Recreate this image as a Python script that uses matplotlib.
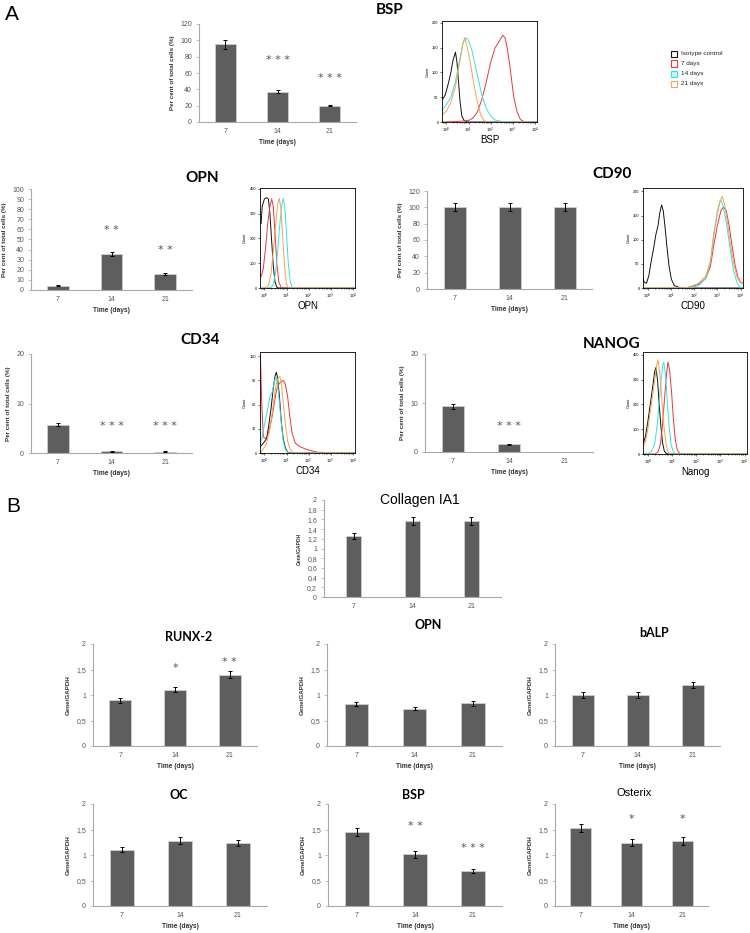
import numpy as np
import matplotlib
matplotlib.use("Agg")
import matplotlib.pyplot as plt
from matplotlib.patches import Rectangle

W, H = 750, 933

DAYS = ["7", "14", "21"]

# panel A, bar charts (% of total cells)
BSP_A_MEAN = [95, 37, 20]
BSP_A_ERR = [5, 2, 1]
BSP_A_STARS = [("", 0), ("***", 76), ("***", 54)]
OPN_A_MEAN = [4, 35.5, 16]
OPN_A_ERR = [0.5, 2, 1]
OPN_A_STARS = [("", 0), ("**", 59), ("**", 40)]
CD90_MEAN = [100, 100, 100]
CD90_ERR = [5, 5, 5]
CD34_MEAN = [5.7, 0.4, 0.3]
CD34_ERR = [0.3, 0.1, 0.1]
CD34_STARS = [("", 0), ("***", 5.4), ("***", 5.4)]
NANOG_MEAN = [9.3, 1.6, 0]
NANOG_ERR = [0.5, 0.1, np.nan]
NANOG_STARS = [("", 0), ("***", 5.4), ("", 0)]

# panel B, gene expression (Gene/GAPDH)
COL_MEAN = [1.25, 1.56, 1.57]
COL_ERR = [0.06, 0.08, 0.08]
RUNX_MEAN = [0.9, 1.1, 1.4]
RUNX_ERR = [0.05, 0.05, 0.07]
RUNX_STARS = [("", 0), ("*", 1.52), ("**", 1.65)]
OPN_B_MEAN = [0.83, 0.73, 0.84]
OPN_B_ERR = [0.04, 0.03, 0.05]
BALP_MEAN = [1.0, 1.0, 1.2]
BALP_ERR = [0.06, 0.06, 0.06]
OC_MEAN = [1.1, 1.28, 1.23]
OC_ERR = [0.05, 0.07, 0.06]
BSP_B_MEAN = [1.45, 1.01, 0.68]
BSP_B_ERR = [0.08, 0.06, 0.04]
BSP_B_STARS = [("", 0), ("**", 1.57), ("***", 1.14)]
OSX_MEAN = [1.53, 1.24, 1.27]
OSX_ERR = [0.08, 0.07, 0.08]
OSX_STARS = [("", 0), ("*", 1.7), ("*", 1.7)]

# flow cytometry histograms: (log10 intensity, count)
BSP_ISO = [(-0.18, 45), (-0.05, 55), (0.1, 80), (0.2, 100), (0.3, 125), (0.41, 141), (0.48, 120),
           (0.55, 80), (0.62, 40), (0.7, 12), (0.8, 3), (0.95, 0), (4.1, 0)]
BSP_D7 = [(-0.18, 0), (0.5, 1), (1.0, 3), (1.2, 8), (1.4, 20), (1.6, 45), (1.8, 80), (2.0, 120),
          (2.2, 150), (2.35, 160), (2.45, 168), (2.56, 175), (2.65, 170), (2.75, 150), (2.85, 120),
          (2.95, 85), (3.05, 50), (3.2, 20), (3.35, 5), (3.5, 1), (4.1, 0)]
BSP_D14 = [(-0.18, 25), (0.0, 35), (0.2, 50), (0.4, 80), (0.6, 125), (0.75, 160), (0.88, 170),
           (1.0, 165), (1.15, 145), (1.3, 115), (1.45, 85), (1.6, 55), (1.8, 28), (2.0, 12),
           (2.2, 4), (2.5, 1), (4.1, 0)]
BSP_D21 = [(-0.18, 15), (0.0, 22), (0.2, 40), (0.4, 70), (0.6, 120), (0.75, 160), (0.83, 170),
           (0.95, 150), (1.1, 115), (1.25, 75), (1.4, 40), (1.55, 15), (1.7, 3), (1.85, 0), (4.1, 0)]

OPN_ISO = [(-0.15, 260), (-0.1, 330), (0.0, 360), (0.1, 365), (0.18, 360), (0.25, 300), (0.32, 200),
           (0.4, 90), (0.48, 25), (0.56, 3), (0.65, 0), (4.1, 0)]
OPN_D7 = [(-0.15, 45), (-0.05, 80), (0.05, 160), (0.15, 260), (0.25, 330), (0.33, 360), (0.4, 330),
          (0.48, 220), (0.56, 100), (0.65, 25), (0.75, 3), (0.85, 0), (4.1, 0)]
OPN_D14 = [(-0.15, 0), (0.3, 2), (0.4, 15), (0.5, 60), (0.6, 150), (0.7, 260), (0.8, 345), (0.86, 362),
           (0.93, 320), (1.0, 220), (1.08, 100), (1.17, 25), (1.26, 3), (1.35, 0), (4.1, 0)]
OPN_D21 = [(-0.15, 0), (0.1, 2), (0.2, 15), (0.3, 60), (0.4, 150), (0.5, 250), (0.6, 340), (0.67, 362),
           (0.75, 320), (0.83, 200), (0.92, 80), (1.0, 15), (1.1, 0), (4.1, 0)]

CD90_ISO = [(-0.21, 22), (-0.15, 12), (-0.05, 10), (0.05, 25), (0.15, 55), (0.25, 80), (0.35, 110),
            (0.45, 130), (0.52, 155), (0.6, 172), (0.67, 160), (0.75, 125), (0.83, 85), (0.92, 45),
            (1.02, 18), (1.15, 5), (1.35, 1), (1.6, 0), (4.1, 0)]
CD90_D7 = [(-0.21, 0), (1.6, 0), (1.9, 3), (2.2, 8), (2.5, 20), (2.7, 45), (2.85, 90), (3.0, 130),
           (3.15, 160), (3.26, 168), (3.38, 160), (3.5, 130), (3.62, 90), (3.75, 50), (3.88, 22),
           (4.0, 12), (4.08, 10)]
CD90_D14 = [(-0.21, 0), (1.8, 0), (2.2, 5), (2.5, 20), (2.7, 55), (2.85, 115), (3.0, 160), (3.1, 178),
            (3.15, 182), (3.25, 170), (3.4, 130), (3.55, 80), (3.7, 35), (3.85, 10), (3.95, 2), (4.08, 0)]
CD90_D21 = [(-0.21, 0), (1.6, 0), (1.9, 4), (2.2, 10), (2.5, 25), (2.7, 55), (2.85, 110), (3.0, 155),
            (3.12, 180), (3.21, 190), (3.3, 175), (3.42, 140), (3.55, 95), (3.7, 50), (3.85, 22),
            (4.0, 10), (4.08, 12)]

CD34_ISO = [(-0.18, 8), (-0.05, 12), (0.1, 18), (0.2, 35), (0.3, 55), (0.4, 80), (0.48, 95), (0.54, 100),
            (0.6, 92), (0.68, 70), (0.76, 40), (0.85, 18), (0.95, 6), (1.05, 1), (1.2, 0), (4.1, 0)]
CD34_D7 = [(-0.18, 120), (-0.12, 60), (-0.05, 20), (0.05, 18), (0.15, 22), (0.25, 32), (0.35, 45),
           (0.45, 62), (0.55, 78), (0.65, 85), (0.75, 88), (0.85, 90), (0.95, 85), (1.05, 70),
           (1.15, 45), (1.25, 25), (1.4, 12), (1.6, 8), (1.85, 5), (2.1, 3), (2.4, 1), (2.8, 0.5),
           (3.2, 0.5), (4.1, 0)]
CD34_D14 = [(-0.18, 12), (-0.1, 20), (0.0, 35), (0.12, 50), (0.25, 70), (0.35, 75), (0.45, 88), (0.52, 95),
            (0.6, 85), (0.68, 62), (0.76, 38), (0.85, 15), (0.95, 4), (1.1, 0), (4.1, 0)]
CD34_D21 = [(-0.18, 0), (-0.05, 5), (0.1, 12), (0.25, 30), (0.38, 55), (0.5, 80), (0.6, 92), (0.7, 95),
            (0.78, 82), (0.86, 60), (0.95, 35), (1.05, 15), (1.15, 5), (1.3, 0), (4.1, 0)]

NANOG_ISO = [(-0.18, 45), (-0.1, 70), (0.0, 130), (0.1, 200), (0.2, 270), (0.28, 330), (0.33, 348),
             (0.4, 300), (0.47, 200), (0.54, 110), (0.61, 45), (0.68, 12), (0.76, 2), (0.85, 0), (4.13, 0)]
NANOG_D7 = [(-0.18, 0), (0.3, 0), (0.42, 8), (0.52, 40), (0.6, 110), (0.68, 210), (0.76, 310), (0.83, 370),
            (0.9, 340), (0.98, 250), (1.05, 150), (1.13, 60), (1.22, 15), (1.32, 2), (1.45, 0), (4.13, 0)]
NANOG_D14 = [(-0.18, 0), (0.0, 2), (0.15, 10), (0.28, 40), (0.38, 110), (0.46, 200), (0.55, 300),
             (0.62, 360), (0.66, 370), (0.73, 320), (0.8, 220), (0.88, 110), (0.96, 40), (1.05, 8),
             (1.15, 0), (4.13, 0)]
NANOG_D21 = [(-0.18, 30), (-0.1, 50), (0.0, 100), (0.1, 170), (0.2, 240), (0.3, 310), (0.37, 360),
             (0.42, 380), (0.5, 320), (0.58, 220), (0.66, 120), (0.74, 50), (0.82, 12), (0.9, 2),
             (1.0, 0), (4.13, 0)]

LEGEND_LABELS = ["Isotype control", "7 days", "14 days", "21 days"]
HIST_COLORS = ["#111111", "#e8383a", "#35e2e2", "#f4a452"]

BAR_COLOR = "#5e5e5e"
AXIS_GREY = "#a8a8a8"
TXT_GREY = "#555555"
TITLE_FONT = ["Lato", "DejaVu Sans"]
PLAIN_FONT = ["Liberation Sans", "DejaVu Sans"]

plt.rcParams["font.family"] = PLAIN_FONT

fig = plt.figure(figsize=(W / 100, H / 100), dpi=100)


def px_axes(x0, y0, x1, y1):
    return fig.add_axes([x0 / W, 1 - y1 / H, (x1 - x0) / W, (y1 - y0) / H])


def px_text(x, y, s, **kw):
    kw.setdefault("ha", "center")
    kw.setdefault("va", "center")
    fig.text(x / W, 1 - y / H, s, **kw)


def bar_panel(box, means, errs, ymax, yticks, ylabels, ylabel, stars=None,
              xlabel="Time (days)", width=0.4, ylab_size=4.5):
    ax = px_axes(*box)
    x = np.arange(len(DAYS))
    ax.bar(x, means, width, color=BAR_COLOR, edgecolor="#cfcfcf", linewidth=0.6, zorder=2)
    ax.errorbar(x, means, yerr=errs, fmt="none", ecolor="black", elinewidth=0.7,
                capsize=1.6, capthick=0.7, zorder=3)
    ax.set_xlim(-0.5, 2.5)
    ax.set_ylim(0, ymax)
    ax.set_yticks(yticks)
    ax.set_yticklabels(ylabels)
    ax.set_xticks(x)
    ax.set_xticklabels(DAYS)
    for s in ["top", "right"]:
        ax.spines[s].set_visible(False)
    for s in ["left", "bottom"]:
        ax.spines[s].set_color(AXIS_GREY)
        ax.spines[s].set_linewidth(0.8)
    ax.tick_params(axis="y", length=2, width=0.5, color=AXIS_GREY, labelsize=5,
                   labelcolor=TXT_GREY, pad=3)
    ax.tick_params(axis="x", length=0, labelsize=5, labelcolor=TXT_GREY, pad=4)
    ax.set_ylabel(ylabel, fontsize=ylab_size, fontweight="bold", color="#333333", labelpad=4)
    if xlabel:
        ax.set_xlabel(xlabel, fontsize=4.8, fontweight="bold", color="#333333", labelpad=3)
    if stars:
        for i, (s, y) in enumerate(stars):
            if s:
                ax.text(i, y, " ".join(s), ha="center", va="center", fontsize=8, color=TXT_GREY,
                        family=["DejaVu Sans"])
    return ax


def hist_panel(box, curves, ymax, yticks, label):
    ax = px_axes(*box)
    for pts, c in zip(curves, HIST_COLORS):
        lx = np.array([p[0] for p in pts])
        cnt = np.array([p[1] for p in pts])
        ax.plot(10 ** lx, cnt, color=c, linewidth=0.7)
    ax.set_xscale("log")
    ax.set_xlim(10 ** -0.2, 10 ** 4.1)
    ax.set_ylim(0, ymax)
    ax.set_yticks(yticks)
    ax.set_yticklabels([str(t) for t in yticks])
    ax.set_xticks([1, 10, 100, 1000, 10000])
    ax.set_xticklabels([r"$10^{%d}$" % i for i in range(5)])
    ax.tick_params(which="both", length=1.5, width=0.4, labelsize=2.8, pad=1)
    ax.tick_params(which="minor", length=0.8)
    for s in ax.spines.values():
        s.set_linewidth(0.6)
    ax.set_ylabel("Count", fontsize=2.8, labelpad=2)
    ax.set_xlabel(label, fontsize=7, labelpad=0.5)
    return ax


# ---- panel A ----
px_text(12, 14, "A", fontsize=15, family=PLAIN_FONT)
PCT = "Per cent of total cells (%)"

bar_panel((199, 24, 356, 122), BSP_A_MEAN, BSP_A_ERR, 120, range(0, 121, 20),
          [str(v) for v in range(0, 121, 20)], PCT, BSP_A_STARS)
px_text(390, 10, "BSP", fontsize=11, fontweight="bold", family=TITLE_FONT)
hist_panel((442, 21, 537, 122), [BSP_ISO, BSP_D7, BSP_D14, BSP_D21], 204, [0, 50, 100, 150, 200], "BSP")

bar_panel((31, 189, 192, 290), OPN_A_MEAN, OPN_A_ERR, 100, range(0, 101, 10),
          [str(v) for v in range(0, 101, 10)], PCT, OPN_A_STARS)
px_text(202, 178, "OPN", fontsize=11, fontweight="bold", family=TITLE_FONT)
hist_panel((260, 188, 355, 288), [OPN_ISO, OPN_D7, OPN_D14, OPN_D21], 404, [0, 100, 200, 300, 400], "OPN")

bar_panel((427, 191, 592, 289), CD90_MEAN, CD90_ERR, 120, range(0, 121, 20),
          [str(v) for v in range(0, 121, 20)], PCT)
px_text(612, 174, "CD90", fontsize=11, fontweight="bold", family=TITLE_FONT)
hist_panel((643, 188, 743, 288), [CD90_ISO, CD90_D7, CD90_D14, CD90_D21], 207, [0, 50, 100, 150, 200], "CD90")

bar_panel((31, 354, 192, 453), CD34_MEAN, CD34_ERR, 20, [0, 10, 20], ["0", "10", "20"], PCT, CD34_STARS)
px_text(200, 340, "CD34", fontsize=11, fontweight="bold", family=TITLE_FONT)
hist_panel((260, 352, 355, 453), [CD34_ISO, CD34_D7, CD34_D14, CD34_D21], 125, [0, 30, 60, 90, 120], "CD34")

bar_panel((425, 354, 593, 452), NANOG_MEAN, NANOG_ERR, 20, [0, 10, 20], ["0", "10", "20"], PCT, NANOG_STARS)
px_text(612, 344, "NANOG", fontsize=11, fontweight="bold", family=TITLE_FONT)
hist_panel((643, 352, 747, 454), [NANOG_ISO, NANOG_D7, NANOG_D14, NANOG_D21], 411,
           [0, 100, 200, 300, 400], "Nanog")

# legend for the histograms
for i, (lab, c) in enumerate(zip(LEGEND_LABELS, HIST_COLORS)):
    yc = [54, 63.5, 74, 84][i]
    fig.add_artist(Rectangle((671 / W, 1 - (yc + 3) / H), 6 / W, 6 / H, transform=fig.transFigure,
                             fill=(i == 2), facecolor="#c8f6f6", edgecolor=c, linewidth=0.8))
    px_text(681, yc, lab, ha="left", fontsize=4.6, color="#222222")

# ---- panel B ----
px_text(13, 507, "B", fontsize=15, family=PLAIN_FONT)
GENE = "Gene/GAPDH"
B_TICKS = [0, 0.5, 1, 1.5, 2]
B_LABELS = ["0", "0,5", "1", "1,5", "2"]
COL_TICKS = [round(v * 0.2, 1) for v in range(11)]
COL_LABELS = [("%g" % v).replace(".", ",") for v in COL_TICKS]

bar_panel((324, 500, 501, 597), COL_MEAN, COL_ERR, 2, COL_TICKS, COL_LABELS, GENE,
          xlabel=None, width=0.27, ylab_size=3.6)
px_text(420, 500, "Collagen IA1", fontsize=10, family=PLAIN_FONT)

bar_panel((93, 644, 257, 746), RUNX_MEAN, RUNX_ERR, 2, B_TICKS, B_LABELS, GENE, RUNX_STARS)
px_text(189, 637, "RUNX-2", fontsize=9, fontweight="bold", family=TITLE_FONT)

bar_panel((327, 644, 502, 746), OPN_B_MEAN, OPN_B_ERR, 2, B_TICKS, B_LABELS, GENE)
px_text(428, 625, "OPN", fontsize=9, fontweight="bold", family=TITLE_FONT)

bar_panel((555, 644, 720, 746), BALP_MEAN, BALP_ERR, 2, B_TICKS, B_LABELS, GENE)
px_text(654, 633, "bALP", fontsize=9, fontweight="bold", family=TITLE_FONT)

bar_panel((93, 804, 267, 906), OC_MEAN, OC_ERR, 2, B_TICKS, B_LABELS, GENE)
px_text(179, 795, "OC", fontsize=9, fontweight="bold", family=TITLE_FONT)

bar_panel((328, 804, 502, 906), BSP_B_MEAN, BSP_B_ERR, 2, B_TICKS, B_LABELS, GENE, BSP_B_STARS)
px_text(413, 795, "BSP", fontsize=9, fontweight="bold", family=TITLE_FONT)

bar_panel((555, 804, 708, 906), OSX_MEAN, OSX_ERR, 2, B_TICKS, B_LABELS, GENE, OSX_STARS)
px_text(634, 793, "Osterix", fontsize=8, family=PLAIN_FONT)

fig.savefig("out.png", dpi=100, facecolor="white")
